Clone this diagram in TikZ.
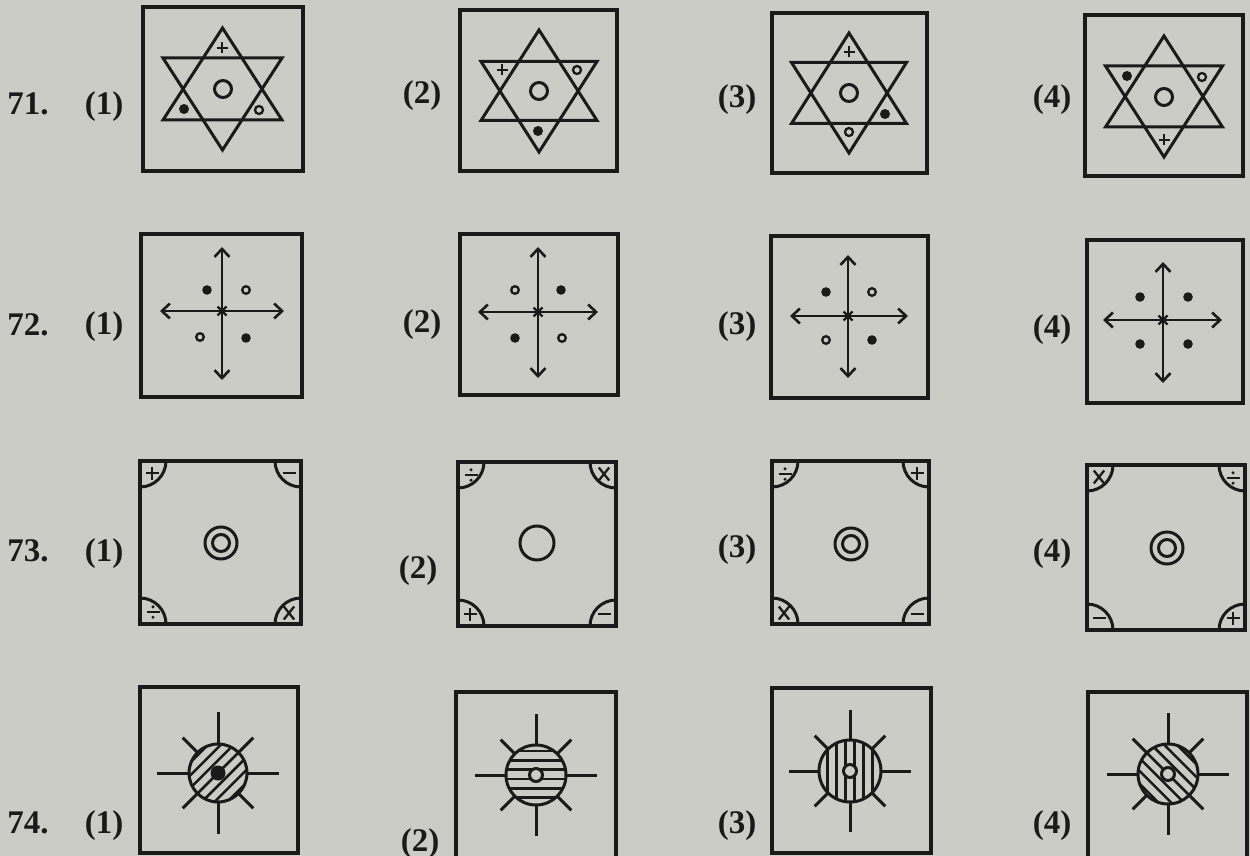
\documentclass[tikz,border=0pt]{standalone}
\usepackage{fontspec}
\setmainfont{Liberation Serif}
\usetikzlibrary{arrows.meta}
\definecolor{paper}{RGB}{204,204,199}
\definecolor{ink}{RGB}{26,26,26}
\tikzset{
  frame/.style={draw=ink, line width=3.4pt},
  ln/.style={draw=ink, line width=3pt, line join=miter},
  thinln/.style={draw=ink, line width=2.3pt},
  hatchln/.style={draw=ink, line width=2.5pt},
  lbl/.style={font=\fontsize{33}{33}\selectfont\bfseries, text=ink, anchor=base, inner sep=0pt},
  dblarrow/.style={draw=ink, line width=2.6pt,
    {Straight Barb[length=8pt,width=15pt]}-{Straight Barb[length=8pt,width=15pt]}}
}
% six-pointed star: cx cy apex-offset line-offset half-width
\newcommand{\SixStar}[5]{%
  \draw[ln] ({#1},{#2-#3}) -- ({#1+#5},{#2+#4}) -- ({#1-#5},{#2+#4}) -- cycle;
  \draw[ln] ({#1},{#2+#3}) -- ({#1+#5},{#2-#4}) -- ({#1-#5},{#2-#4}) -- cycle;}
\newcommand{\PlusSym}[3]{\draw[thinln] ({#1-#3},{#2}) -- ({#1+#3},{#2}) ({#1},{#2-#3}) -- ({#1},{#2+#3});}
\newcommand{\MinusSym}[3]{\draw[thinln] ({#1-#3},{#2}) -- ({#1+#3},{#2});}
\newcommand{\TimesSym}[3]{\draw[thinln] ({#1-#3*0.8},{#2-#3}) -- ({#1+#3*0.8},{#2+#3}) ({#1-#3*0.8},{#2+#3}) -- ({#1+#3*0.8},{#2-#3});}
\newcommand{\DivSym}[3]{\draw[thinln] ({#1-#3},{#2}) -- ({#1+#3},{#2});
  \fill[ink] ({#1},{#2-#3*0.8}) circle (1.7) ({#1},{#2+#3*0.8}) circle (1.7);}
\newcommand{\DotSym}[2]{\fill[ink] (#1,#2) circle (5);}
\newcommand{\RingSym}[2]{\draw[thinln] (#1,#2) circle (4);}
\newcommand{\BigRing}[2]{\draw[ln] (#1,#2) circle (8.5);}
% cross of arrows: cx cy top bottom left right
\newcommand{\ArrowCross}[6]{%
  \draw[dblarrow] (#1,#3) -- (#1,#4);
  \draw[dblarrow] (#5,#2) -- (#6,#2);
  \draw[thinln] ({#1-4.5},{#2-4.5}) -- ({#1+4.5},{#2+4.5}) ({#1-4.5},{#2+4.5}) -- ({#1+4.5},{#2-4.5});}
\newcommand{\FDot}[2]{\fill[ink] (#1,#2) circle (4.8);}
\newcommand{\ODot}[2]{\draw[thinln] (#1,#2) circle (3.8);}
% corner box: x1 y1 x2 y2
\newcommand{\CornerBox}[4]{%
  \begin{scope}
    \clip (#1,#2) rectangle (#3,#4);
    \draw[ln] (#1,#2) circle (26) (#3,#2) circle (26) (#1,#4) circle (26) (#3,#4) circle (26);
  \end{scope}
  \draw[frame] (#1,#2) rectangle (#3,#4);}
\newcommand{\DoubleRing}[2]{\draw[ln] (#1,#2) circle (16) (#1,#2) circle (8.5);}
% sun: cx cy r
\newcommand{\SunRays}[3]{%
  \foreach \ang in {0,90,180,270}{\draw[ln] ({#1+#3*cos(\ang)},{#2+#3*sin(\ang)}) -- ({#1+61*cos(\ang)},{#2+61*sin(\ang)});}
  \foreach \ang in {45,135,225,315}{\draw[ln] ({#1+#3*cos(\ang)},{#2+#3*sin(\ang)}) -- ({#1+50*cos(\ang)},{#2+50*sin(\ang)});}}
\begin{document}
\begin{tikzpicture}[x=1pt,y=-1pt]
\useasboundingbox (0,0) rectangle (1250,856);
\clip (0,0) rectangle (1250,856);
\fill[paper] (0,0) rectangle (1250,856);

% ---------- labels ----------
\node[lbl] (q71) at (28,115) {71.};
\node[lbl] (q72) at (28,335) {72.};
\node[lbl] (q73) at (28,561) {73.};
\node[lbl] (q74) at (28,833) {74.};
\node[lbl] (a71) at (104,115) {(1)};
\node[lbl] (b71) at (422,104) {(2)};
\node[lbl] (c71) at (737,108) {(3)};
\node[lbl] (d71) at (1052,108) {(4)};
\node[lbl] (a72) at (104,334) {(1)};
\node[lbl] (b72) at (422,332) {(2)};
\node[lbl] (c72) at (737,334) {(3)};
\node[lbl] (d72) at (1052,337) {(4)};
\node[lbl] (a73) at (104,561) {(1)};
\node[lbl] (b73) at (418,578) {(2)};
\node[lbl] (c73) at (737,557) {(3)};
\node[lbl] (d73) at (1052,561) {(4)};
\node[lbl] (a74) at (104,833) {(1)};
\node[lbl] (b74) at (420,851) {(2)};
\node[lbl] (c74) at (737,833) {(3)};
\node[lbl] (d74) at (1052,833) {(4)};

% ---------- row 71 ----------
\draw[frame] (143,7) rectangle (303,171);
\SixStar{222.5}{89}{61}{31}{59.5}
\BigRing{223}{89}
\PlusSym{222}{48}{5.5}
\DotSym{184}{109}
\RingSym{259}{110}

\draw[frame] (460,10) rectangle (617,171);
\SixStar{539}{91}{61}{29.5}{58}
\BigRing{539}{91}
\PlusSym{502}{70}{5.5}
\RingSym{577}{70}
\DotSym{538}{131}

\draw[frame] (772,13) rectangle (927,173);
\SixStar{849}{93}{60}{30.5}{57.5}
\BigRing{849}{93}
\PlusSym{849}{52}{5.5}
\DotSym{885}{114}
\RingSym{849}{132}

\draw[frame] (1085,15) rectangle (1243,176);
\SixStar{1164}{96.5}{60.5}{30.5}{58.5}
\BigRing{1164}{97}
\DotSym{1127}{76}
\RingSym{1202}{77}
\PlusSym{1164}{140}{5.5}

% ---------- row 72 ----------
\draw[frame] (141,234) rectangle (302,397);
\ArrowCross{222}{311}{247}{380}{160}{284}
\FDot{207}{290} \ODot{246}{290} \ODot{200}{337} \FDot{246}{338}

\draw[frame] (460,234) rectangle (618,395);
\ArrowCross{538}{312}{247}{378}{478}{598}
\ODot{515}{290} \FDot{561}{290} \FDot{515}{338} \ODot{562}{338}

\draw[frame] (771,236) rectangle (928,398);
\ArrowCross{848}{316}{255}{378}{790}{908}
\FDot{826}{292} \ODot{872}{292} \ODot{826}{340} \FDot{872}{340}

\draw[frame] (1087,240) rectangle (1243,403);
\ArrowCross{1163}{320}{262}{383}{1103}{1222}
\FDot{1140}{297} \FDot{1188}{297} \FDot{1140}{344} \FDot{1188}{344}

% ---------- row 73 ----------
\CornerBox{140}{461}{301}{624}
\PlusSym{152}{473}{6.5}
\MinusSym{289}{473}{6.5}
\DivSym{153}{612}{6.5}
\TimesSym{289}{613}{6.5}
\DoubleRing{221}{543}

\CornerBox{458}{462}{616}{626}
\DivSym{471}{475}{6.5}
\TimesSym{604}{474}{6.5}
\PlusSym{470}{614}{6.5}
\MinusSym{604}{614}{6.5}
\draw[ln] (537,543) circle (17);

\CornerBox{772}{461}{929}{624}
\DivSym{785}{474}{6.5}
\PlusSym{917}{473}{6.5}
\TimesSym{784}{613}{6.5}
\MinusSym{917}{614}{6.5}
\DoubleRing{851}{544}

\CornerBox{1087}{465}{1245}{630}
\TimesSym{1099}{477}{6.5}
\DivSym{1233}{478}{6.5}
\MinusSym{1099}{618}{6.5}
\PlusSym{1233}{618}{6.5}
\DoubleRing{1167}{548}

% ---------- row 74 ----------
\draw[frame] (140,687) rectangle (298,853);
\SunRays{218}{773}{29}
\begin{scope}
  \clip (218,773) circle (29);
  \foreach \k in {-3,...,3}{\draw[hatchln] ({218+\k*9*0.7071-40*0.7071},{773+\k*9*0.7071+40*0.7071}) -- ({218+\k*9*0.7071+40*0.7071},{773+\k*9*0.7071-40*0.7071});}
\end{scope}
\draw[ln] (218,773) circle (29);
\fill[ink] (218,773) circle (7.5);

\draw[frame] (456,692) rectangle (616,870);
\SunRays{536}{775}{30}
\begin{scope}
  \clip (536,775) circle (30);
  \foreach \k in {-3,...,2}{\draw[hatchln] (500,{775+\k*9.3+4}) -- (572,{775+\k*9.3+4});}
\end{scope}
\draw[ln] (536,775) circle (30);
\draw[ln, fill=paper] (536,775) circle (6.5);

\draw[frame] (772,688) rectangle (931,853);
\SunRays{850}{771}{31}
\begin{scope}
  \clip (850,771) circle (31);
  \foreach \k in {-3,...,2}{\draw[hatchln] ({850+\k*9+4.5},730) -- ({850+\k*9+4.5},812);}
\end{scope}
\draw[ln] (850,771) circle (31);
\draw[ln, fill=paper] (850,771) circle (6.5);

\draw[frame] (1088,692) rectangle (1247,870);
\SunRays{1168}{774}{30}
\begin{scope}
  \clip (1168,774) circle (30);
  \foreach \k in {-3,...,3}{\draw[hatchln] ({1168+\k*9*0.7071-40*0.7071},{774-\k*9*0.7071-40*0.7071}) -- ({1168+\k*9*0.7071+40*0.7071},{774-\k*9*0.7071+40*0.7071});}
\end{scope}
\draw[ln] (1168,774) circle (30);
\draw[ln, fill=paper] (1168,774) circle (6.5);
\end{tikzpicture}
\end{document}
